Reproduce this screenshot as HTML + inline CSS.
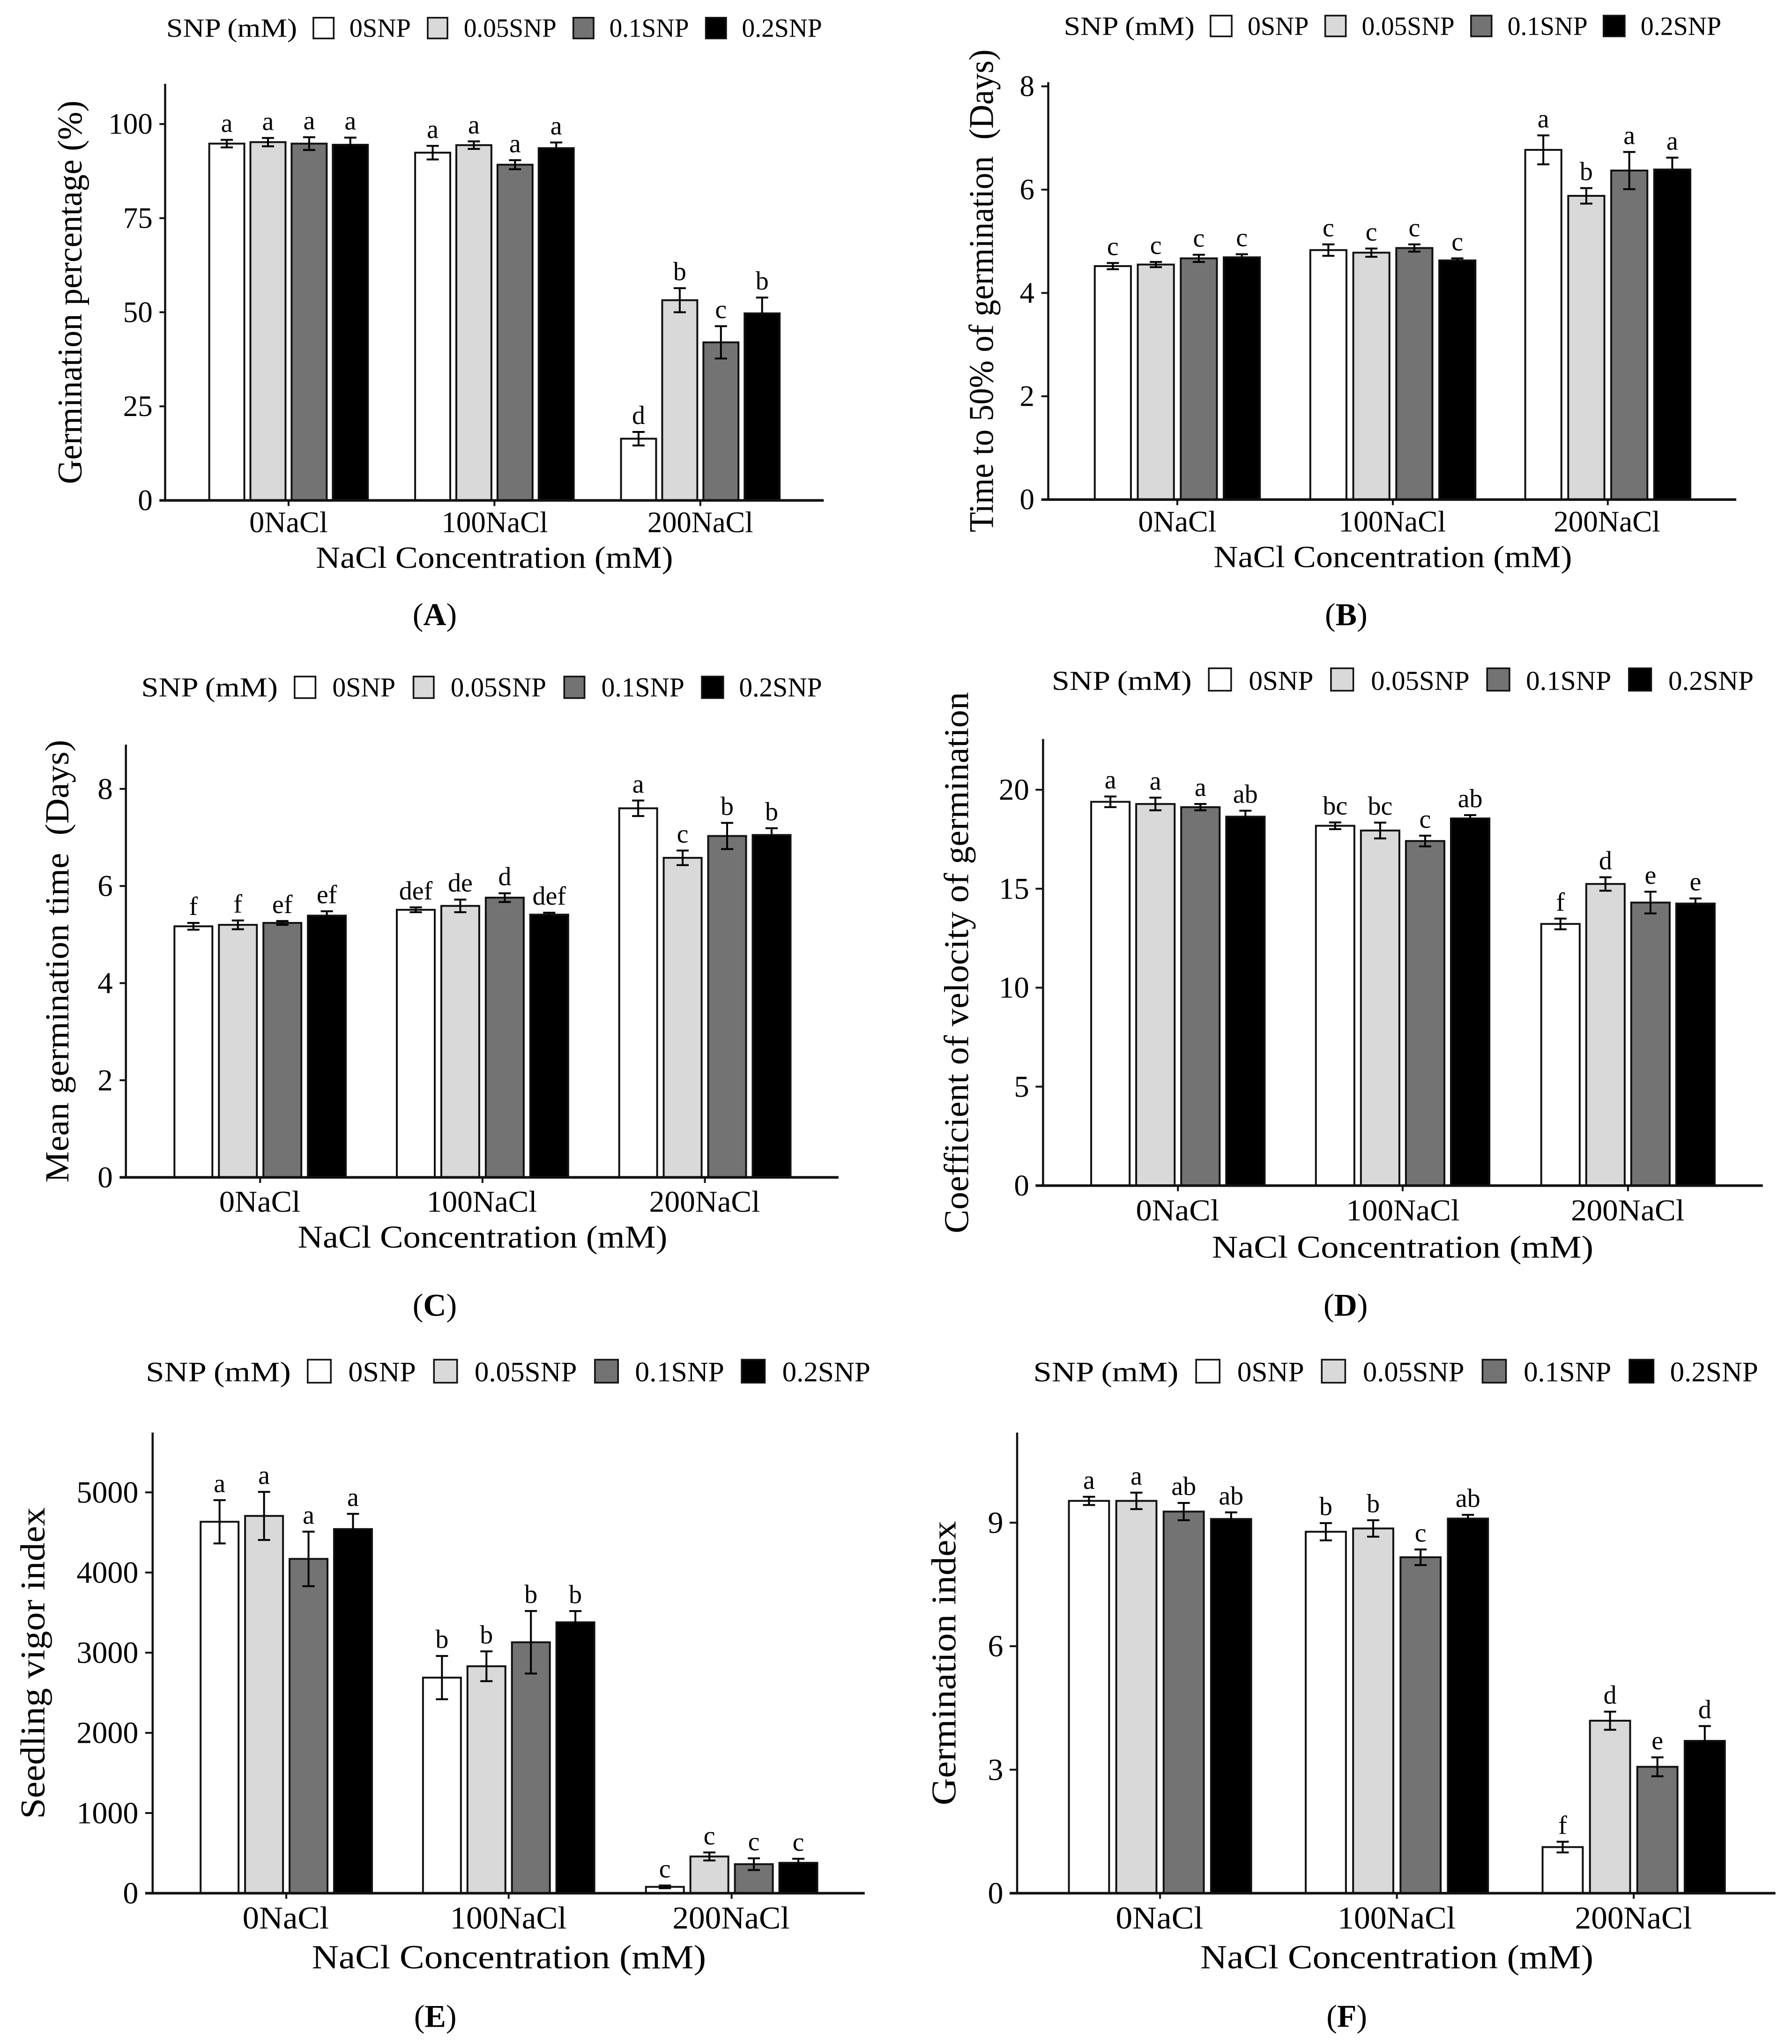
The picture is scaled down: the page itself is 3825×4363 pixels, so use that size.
<!DOCTYPE html>
<html lang="en">
<head>
<meta charset="utf-8">
<title>SNP and NaCl germination charts</title>
<style>
html,body{margin:0;padding:0;background:#fff;width:3825px;height:4363px;overflow:hidden}
svg{display:block}
text{font-family:"Liberation Serif","DejaVu Serif",serif;fill:#000;white-space:pre}
</style>
</head>
<body>
<svg id="figure" xmlns="http://www.w3.org/2000/svg" width="3825" height="4363" viewBox="0 0 3825 4363"></svg>
<script>
// ---- shared categories and series ----
const categories = ['0NaCl', '100NaCl', '200NaCl'];
const seriesNames = ['0SNP', '0.05SNP', '0.1SNP', '0.2SNP'];
const legendTitle = 'SNP (mM)';
const xAxisTitle = 'NaCl Concentration (mM)';

// ---- panel A ----
const aTitle = 'Germination percentage (%)';
const aTicks = [0, 25, 50, 75, 100];
const aMeans = [[94.8, 95.2, 94.8, 94.5], [92.4, 94.4, 89.2, 93.6], [16.4, 53.2, 42.0, 49.7]];
const aErrors = [[1.0, 1.1, 1.7, 1.9], [1.8, 1.0, 1.2, 1.5], [1.8, 3.2, 4.3, 4.2]];
const aLetters = [['a', 'a', 'a', 'a'], ['a', 'a', 'a', 'a'], ['d', 'b', 'c', 'b']];

// ---- panel B ----
const bTitle = 'Time to 50% of germination  (Days)';
const bTicks = [0, 2, 4, 6, 8];
const bMeans = [[4.52, 4.55, 4.67, 4.69], [4.83, 4.78, 4.87, 4.63], [6.77, 5.88, 6.37, 6.39]];
const bErrors = [[0.06, 0.05, 0.07, 0.06], [0.11, 0.08, 0.07, 0.04], [0.28, 0.15, 0.36, 0.23]];
const bLetters = [['c', 'c', 'c', 'c'], ['c', 'c', 'c', 'c'], ['a', 'b', 'a', 'a']];

// ---- panel C ----
const cTitle = 'Mean germination time  (Days)';
const cTicks = [0, 2, 4, 6, 8];
const cMeans = [[5.17, 5.20, 5.24, 5.39], [5.51, 5.59, 5.76, 5.41], [7.60, 6.58, 7.03, 7.05]];
const cErrors = [[0.07, 0.09, 0.04, 0.09], [0.05, 0.13, 0.09, 0.04], [0.16, 0.15, 0.27, 0.14]];
const cLetters = [['f', 'f', 'ef', 'ef'], ['def', 'de', 'd', 'def'], ['a', 'c', 'b', 'b']];

// ---- panel D ----
const dTitle = 'Coefficient of velocity of germination';
const dTicks = [0, 5, 10, 15, 20];
const dMeans = [[19.39, 19.28, 19.12, 18.64], [18.18, 17.94, 17.41, 18.55], [13.22, 15.24, 14.30, 14.25]];
const dErrors = [[0.27, 0.32, 0.16, 0.30], [0.17, 0.40, 0.27, 0.17], [0.27, 0.34, 0.55, 0.26]];
const dLetters = [['a', 'a', 'a', 'ab'], ['bc', 'bc', 'c', 'ab'], ['f', 'd', 'e', 'e']];

// ---- panel E ----
const eTitle = 'Seedling vigor index';
const eTicks = [0, 1000, 2000, 3000, 4000, 5000];
const eMeans = [[4633, 4706, 4170, 4542], [2689, 2831, 3130, 3379], [79, 458, 362, 379]];
const eErrors = [[270, 300, 340, 190], [270, 186, 390, 140], [17, 50, 73, 50]];
const eLetters = [['a', 'a', 'a', 'a'], ['b', 'b', 'b', 'b'], ['c', 'c', 'c', 'c']];

// ---- panel F ----
const fTitle = 'Germination index';
const fTicks = [0, 3, 6, 9];
const fMeans = [[9.53, 9.53, 9.27, 9.09], [8.78, 8.86, 8.16, 9.10], [1.12, 4.19, 3.07, 3.70]];
const fErrors = [[0.10, 0.20, 0.21, 0.16], [0.21, 0.20, 0.19, 0.09], [0.13, 0.22, 0.23, 0.36]];
const fLetters = [['a', 'a', 'ab', 'ab'], ['b', 'b', 'c', 'ab'], ['f', 'd', 'e', 'd']];

// ---- styling ----
const fills = ['#ffffff', '#d9d9d9', '#737373', '#000000'];

// ---- layout (separate from data) ----
const layouts = [
  {id:'A', ox:-2, oy:0, kx:1.214, ky:0.8946, means:aMeans, errors:aErrors, letters:aLetters, ticks:aTicks, title:aTitle,
   axis:292, base:1194, refVal:100, refPx:296, top:200, right:1450, tickL:282, centers:[509,871,1233], pitch:72.4, barW:65,
   legBase:88, keyY:[40,94], legTitle:[294,524], keys:[[551,590],[752,790],[1008,1047],[1241,1280]], labels:[[616,724],[817,980],[1073,1213],[1306,1447]],
   yt:[145,240,1155], tickR:270, catBase:1270, cats:[[440,578],[778,965],[1140,1326]], xt:[557,1185,1355], pl:[766,1492], fs:{tick:63,cat:63,leg:56,y:74,xt:66}},
  {id:'B', ox:1898, oy:0, kx:1.23, ky:0.8946, means:bMeans, errors:bErrors, letters:bLetters, ticks:bTicks, title:bTitle,
   axis:276, base:1192, refVal:8, refPx:206, top:196, right:1470, tickL:264, centers:[500,874,1247], pitch:74.6, barW:66,
   legBase:83, keyY:[35,89], legTitle:[303,530], keys:[[556,596],[755,794],[1008,1047],[1238,1278]], labels:[[622,728],[820,981],[1073,1212],[1304,1444]],
   yt:[180,118,1270], tickR:252, catBase:1268, cats:[[432,568],[780,966],[1153,1338]], xt:[563,1185,1353], pl:[793,1492], fs:{tick:63,cat:63,leg:56,y:74,xt:66}},
  {id:'C', ox:-2, oy:1380, kx:1.214, ky:0.9265, means:cMeans, errors:cErrors, letters:cLetters, ticks:cTicks, title:cTitle,
   axis:223, base:1223, refVal:8, refPx:328, top:226, right:1476, tickL:212, centers:[459,850,1241], pitch:78.2, barW:70,
   legBase:115, keyY:[67,121], legTitle:[250,490], keys:[[518,558],[727,766],[992,1031],[1234,1275]], labels:[[586,697],[794,962],[1059,1205],[1301,1447]],
   yt:[122,215,1235], tickR:200, catBase:1302, cats:[[387,530],[752,946],[1143,1338]], xt:[525,1175,1385], pl:[766,1542], fs:{tick:65,cat:65,leg:58,y:72,xt:68}},
  {id:'D', ox:1898, oy:1380, kx:1.23, ky:0.9265, means:dMeans, errors:dErrors, letters:dLetters, ticks:dTicks, title:dTitle,
   axis:267, base:1242, refVal:20, refPx:330, top:213, right:1516, tickL:254, centers:[501,891,1282], pitch:78.1, barW:70,
   legBase:100, keyY:[48,104], legTitle:[282,525], keys:[[553,595],[765,807],[1036,1078],[1282,1324]], labels:[[624,736],[836,1007],[1105,1253],[1352,1500]],
   yt:[137,105,1352], tickR:243, catBase:1322, cats:[[428,573],[793,990],[1183,1380]], xt:[560,1222,1408], pl:[792,1542], fs:{tick:65,cat:65,leg:58,y:74,xt:68}},
  {id:'E', ox:-2, oy:2850, kx:1.214, ky:0.9668, means:eMeans, errors:eErrors, letters:eLetters, ticks:eTicks, title:eTitle,
   axis:270, base:1232, refVal:5000, refPx:347, top:215, right:1522, tickL:257, centers:[505,896,1288], pitch:78.2, barW:70,
   legBase:102, keyY:[52,107], legTitle:[258,513], keys:[[541,585],[763,807],[1046,1090],[1304,1348]], labels:[[614,733],[836,1016],[1118,1275],[1377,1532]],
   yt:[80,380,1068], tickR:245, catBase:1310, cats:[[428,580],[793,998],[1184,1390]], xt:[550,1243,1398], pl:[767,1527], fs:{tick:66,cat:68,leg:60,y:74,xt:72}},
  {id:'F', ox:1898, oy:2850, kx:1.23, ky:0.9668, means:fMeans, errors:fErrors, letters:fLetters, ticks:fTicks, title:fTitle,
   axis:222, base:1232, refVal:9, refPx:414, top:215, right:1538, tickL:209, centers:[470,881,1292], pitch:82.2, barW:73,
   legBase:102, keyY:[52,107], legTitle:[250,502], keys:[[531,575],[749,793],[1028,1072],[1283,1328]], labels:[[604,720],[822,998],[1101,1253],[1355,1508]],
   yt:[115,410,1038], tickR:198, catBase:1310, cats:[[393,545],[778,983],[1190,1393]], xt:[540,1222,1398], pl:[794,1527], fs:{tick:66,cat:68,leg:60,y:74,xt:72}}
];

const NS = 'http://www.w3.org/2000/svg';
const figure = document.getElementById('figure');

function mk(parent, tag, attrs, txt) {
  const n = document.createElementNS(NS, tag);
  for (const k in attrs) n.setAttribute(k, attrs[k]);
  if (txt !== undefined) n.textContent = txt;
  parent.appendChild(n);
  return n;
}

layouts.forEach(function (p) {
  const X = function (z) { return p.ox + z * p.kx; };
  const Y = function (z) { return p.oy + z * p.ky; };
  const basePx = Y(p.base);
  const perUnit = (Y(p.base) - Y(p.refPx)) / p.refVal;
  const yScale = function (v) { return basePx - v * perUnit; };
  const xScale = function (g, s) { return X(p.centers[g] + (s - 1.5) * p.pitch); };
  const lower = p.id.toLowerCase();

  const panel = mk(figure, 'g', {});
  
  

  // legend
  const legend = mk(panel, 'g', {});
  
  
  const lt = mk(legend, 'text', {x:X(p.legTitle[0]), y:Y(p.legBase), 'font-size':p.fs.leg, textLength:(p.legTitle[1]-p.legTitle[0])*p.kx, lengthAdjust:'spacingAndGlyphs'}, legendTitle);
  
  
  seriesNames.forEach(function (name, i) {
    const key = mk(legend, 'rect', {x:X(p.keys[i][0])+2, y:Y(p.keyY[0])+2, width:(p.keys[i][1]-p.keys[i][0])*p.kx-4, height:(p.keyY[1]-p.keyY[0])*p.ky-4, fill:fills[i], stroke:'#111', 'stroke-width':3.5});
    
    
    const lab = mk(legend, 'text', {x:X(p.labels[i][0]), y:Y(p.legBase), 'font-size':p.fs.leg, textLength:(p.labels[i][1]-p.labels[i][0])*p.kx, lengthAdjust:'spacingAndGlyphs'}, name);
    
    
  });

  // bars, error bars and significance letters
  const sw = 4;
  const barPx = p.barW * p.kx;
  const capHalf = 13;
  const gap = 17;
  categories.forEach(function (cat, g) {
    seriesNames.forEach(function (name, s) {
      const v = p.means[g][s];
      const e = p.errors[g][s];
      const cx = xScale(g, s);
      const bar = mk(panel, 'rect', {x:cx-barPx/2+sw/2, y:yScale(v), width:barPx-sw, height:basePx-yScale(v), fill:fills[s], stroke:'#111', 'stroke-width':sw});
      
      
      const err = mk(panel, 'path', {d:'M'+(cx-capHalf)+' '+yScale(v+e)+'H'+(cx+capHalf)+'M'+cx+' '+yScale(v+e)+'V'+yScale(v-e)+'M'+(cx-capHalf)+' '+yScale(v-e)+'H'+(cx+capHalf), fill:'none', stroke:'#000', 'stroke-width':4});
      
      
      const letter = mk(panel, 'text', {x:cx, y:yScale(v+e)-gap, 'font-size':56, 'text-anchor':'middle'}, p.letters[g][s]);
      
      
    });
  });

  // y axis
  const yAxis = mk(panel, 'line', {x1:X(p.axis), x2:X(p.axis), y1:Y(p.top), y2:basePx+2, stroke:'#111', 'stroke-width':4.5});
  
  
  p.ticks.forEach(function (t) {
    const tm = mk(panel, 'line', {x1:X(p.tickL), x2:X(p.axis), y1:yScale(t), y2:yScale(t), stroke:'#111', 'stroke-width':4});
    
    
    const tl = mk(panel, 'text', {x:X(p.tickR), y:yScale(t)+p.fs.tick*0.33, 'font-size':p.fs.tick, 'text-anchor':'end'}, String(t));
    
    
  });
  const yt = mk(panel, 'text', {x:X(p.yt[0]), y:Y(p.yt[2]), 'font-size':p.fs.y, textLength:(p.yt[2]-p.yt[1])*p.ky, lengthAdjust:'spacingAndGlyphs', transform:'rotate(-90 '+X(p.yt[0])+' '+Y(p.yt[2])+')'}, p.title);
  
  

  // x axis
  const xAxis = mk(panel, 'line', {x1:X(p.tickL), x2:X(p.right), y1:basePx, y2:basePx, stroke:'#111', 'stroke-width':5.5});
  
  
  categories.forEach(function (cat, g) {
    const c = X(p.centers[g]);
    const tm = mk(panel, 'line', {x1:c, x2:c, y1:basePx, y2:basePx+12, stroke:'#111', 'stroke-width':4});
    
    
    const cl = mk(panel, 'text', {x:X(p.cats[g][0]), y:Y(p.catBase), 'font-size':p.fs.cat, textLength:(p.cats[g][1]-p.cats[g][0])*p.kx, lengthAdjust:'spacingAndGlyphs'}, cat);
    
    
  });
  const xt = mk(panel, 'text', {x:X(p.xt[0]), y:Y(p.xt[2]), 'font-size':p.fs.xt, textLength:(p.xt[1]-p.xt[0])*p.kx, lengthAdjust:'spacingAndGlyphs'}, xAxisTitle);
  
  

  // panel label
  const pl = mk(panel, 'text', {x:X(p.pl[0]), y:Y(p.pl[1]), 'font-size':68, 'text-anchor':'middle'});
  
  
  mk(pl, 'tspan', {}, '(');
  mk(pl, 'tspan', {'font-weight':'bold'}, p.id);
  mk(pl, 'tspan', {}, ')');
});
</script>
</body>
</html>
